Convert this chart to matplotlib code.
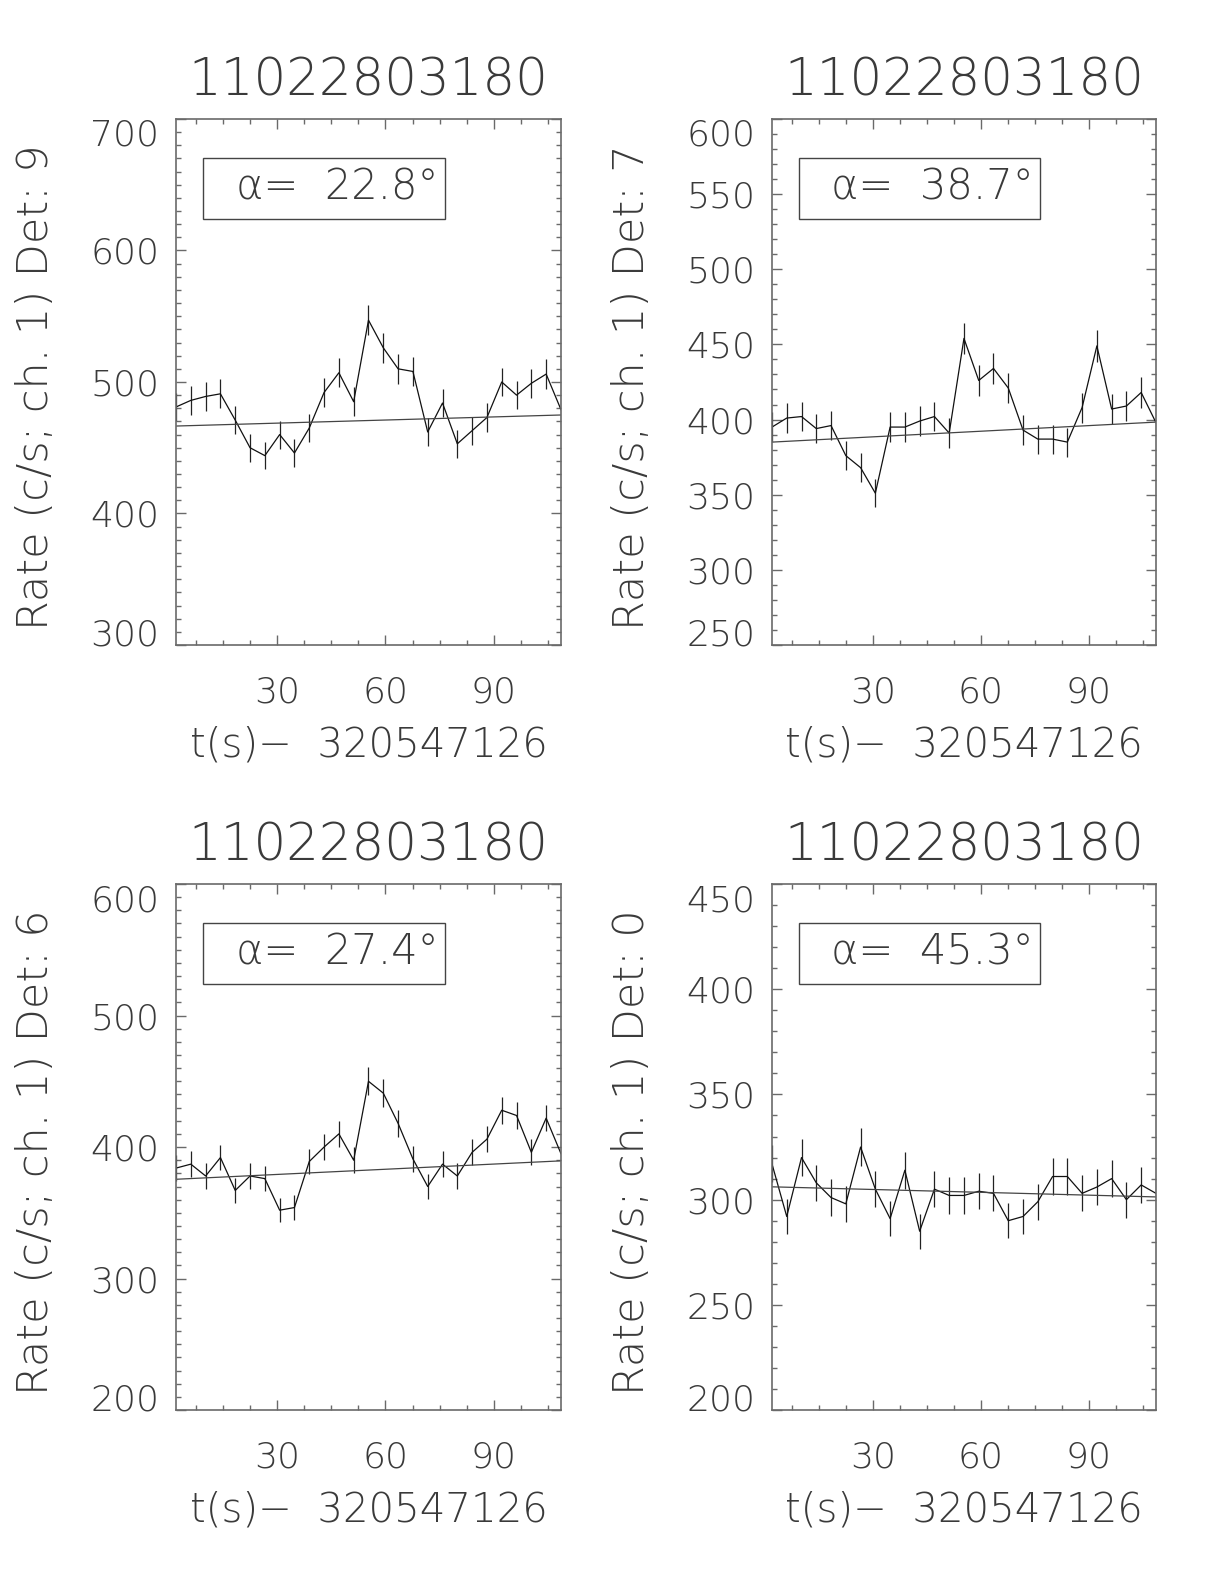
import matplotlib
matplotlib.use("Agg")
import matplotlib.pyplot as plt
from matplotlib.patches import Rectangle
from matplotlib.ticker import MultipleLocator

# bin times (s) relative to 320547126
t_bins = [2.0, 6.1, 10.2, 14.3, 18.4, 22.5, 26.6, 30.7, 34.8, 38.9, 43.0, 47.1, 51.2, 55.3,
          59.4, 63.5, 67.6, 71.7, 75.8, 79.9, 84.0, 88.1, 92.2, 96.3, 100.4, 104.5, 108.6]

# Det 9
rate_d9 = [481, 486, 489, 491, 471, 450, 444, 460, 446, 465, 492, 507, 485, 547,
           526, 510, 508, 462, 484, 453, 463, 473, 500, 490, 499, 506, 479]
err_d9 = [10.8, 10.9, 10.9, 10.9, 10.7, 10.5, 10.4, 10.6, 10.4, 10.7, 11.0, 11.1, 10.9, 11.6,
          11.3, 11.2, 11.1, 10.6, 10.9, 10.5, 10.6, 10.7, 11.0, 10.9, 11.0, 11.1, 10.8]
fit_d9 = [466.5, 474.9]

# Det 7
rate_d7 = [395, 401, 402, 394, 396, 376, 368, 351, 395, 395, 399, 402, 391, 454,
           426, 434, 421, 393, 387, 387, 385, 408, 449, 407, 409, 418, 398]
err_d7 = [9.8, 9.9, 9.9, 9.8, 9.8, 9.6, 9.5, 9.3, 9.8, 9.8, 9.9, 9.9, 9.8, 10.5,
          10.2, 10.3, 10.1, 9.8, 9.7, 9.7, 9.7, 10.0, 10.5, 10.0, 10.0, 10.1, 9.9]
fit_d7 = [385.0, 398.3]

# Det 6
rate_d6 = [384, 387, 378, 392, 367, 378, 376, 352, 354, 389, 400, 410, 390, 450,
           441, 418, 391, 370, 387, 378, 396, 406, 428, 424, 396, 422, 395]
err_d6 = [9.7, 9.7, 9.6, 9.8, 9.5, 9.6, 9.6, 9.3, 9.3, 9.7, 9.9, 10.0, 9.8, 10.5,
          10.4, 10.1, 9.8, 9.5, 9.7, 9.6, 9.8, 10.0, 10.2, 10.2, 9.8, 10.1, 9.8]
fit_d6 = [375.5, 389.5]

# Det 0
rate_d0 = [317, 292, 320, 308, 301, 298, 325, 305, 291, 314, 285, 305, 302, 302,
           304, 303, 290, 292, 299, 311, 311, 303, 306, 310, 300, 307, 303]
err_d0 = [8.8, 8.4, 8.8, 8.7, 8.6, 8.5, 8.9, 8.6, 8.4, 8.8, 8.3, 8.6, 8.6, 8.6,
          8.6, 8.6, 8.4, 8.4, 8.5, 8.7, 8.7, 8.6, 8.6, 8.7, 8.6, 8.7, 8.6]
fit_d0 = [306.1, 301.3]

grb_id = "11022803180"
t0_label = "t(s)\u2212  320547126"
x_ticks = [30, 60, 90]

panels = [
    # det, rate, err, fit, alpha, y ticks, axes rect
    ("9", rate_d9, err_d9, fit_d9, "22.8", [300, 400, 500, 600, 700], [0.1438, 0.5928, 0.3145, 0.3321]),
    ("7", rate_d7, err_d7, fit_d7, "38.7", [250, 300, 350, 400, 450, 500, 550, 600], [0.6307, 0.5928, 0.3137, 0.3321]),
    ("6", rate_d6, err_d6, fit_d6, "27.4", [200, 300, 400, 500, 600], [0.1438, 0.1098, 0.3145, 0.3321]),
    ("0", rate_d0, err_d0, fit_d0, "45.3", [200, 250, 300, 350, 400, 450], [0.6307, 0.1098, 0.3137, 0.3321]),
]

plt.rcParams['font.family'] = ['DejaVu Sans']
plt.rcParams['font.weight'] = 'light'
txt_color = '#3a3a3a'
axis_color = '#6a6a6a'
fs = 26

fig = plt.figure(figsize=(12.24, 15.84), dpi=100)

for det, rate, err, fit, alpha, yt, rect in panels:
    ax = fig.add_axes(rect)
    ax.errorbar(t_bins, rate, yerr=err, fmt='none', ecolor='#222222', elinewidth=0.9, capsize=0)
    ax.plot(t_bins, rate, color='#111111', lw=0.9)
    ax.plot([t_bins[0], t_bins[-1]], fit, color='#444444', lw=0.9)

    ax.set_xlim(t_bins[0], t_bins[-1])
    ax.set_ylim(yt[0], yt[-1])
    ax.set_xticks(x_ticks)
    ax.xaxis.set_minor_locator(MultipleLocator(7.5))
    ax.set_yticks(yt)
    ax.yaxis.set_minor_locator(MultipleLocator(10))
    ax.tick_params(which='both', direction='in', top=True, right=True,
                   color=axis_color, width=1.0, labelsize=fs, labelcolor=txt_color)
    ax.tick_params(which='major', length=7)
    ax.tick_params(which='minor', length=3.5)
    ax.tick_params(axis='x', pad=22)
    ax.tick_params(axis='y', pad=12)
    for sp in ax.spines.values():
        sp.set_color(axis_color)
        sp.set_linewidth(1.2)

    # IDL keeps the end labels inside the axis range
    yticks = ax.yaxis.get_major_ticks()
    yticks[0].label1.set_verticalalignment('baseline')
    yticks[-1].label1.set_verticalalignment('top')

    ax.text(0.5, 1.072, grb_id, transform=ax.transAxes, ha='center', va='center',
            fontsize=37, color=txt_color)
    ax.text(0.5, -0.19, t0_label, transform=ax.transAxes, ha='center', va='center',
            fontsize=29, color=txt_color)
    ax.text(-0.366, 0.49, "Rate (c/s; ch. 1) Det: " + det, transform=ax.transAxes,
            rotation=90, ha='center', va='center', fontsize=31, color=txt_color)
    ax.add_patch(Rectangle((0.07, 0.81), 0.629, 0.116, transform=ax.transAxes,
                           fill=False, ec='#444444', lw=1.0))
    ax.text(0.418, 0.870, "\u03b1=  " + alpha + "\u00b0", transform=ax.transAxes,
            ha='center', va='center', fontsize=30, color=txt_color)

fig.savefig("out.png", dpi=100)
